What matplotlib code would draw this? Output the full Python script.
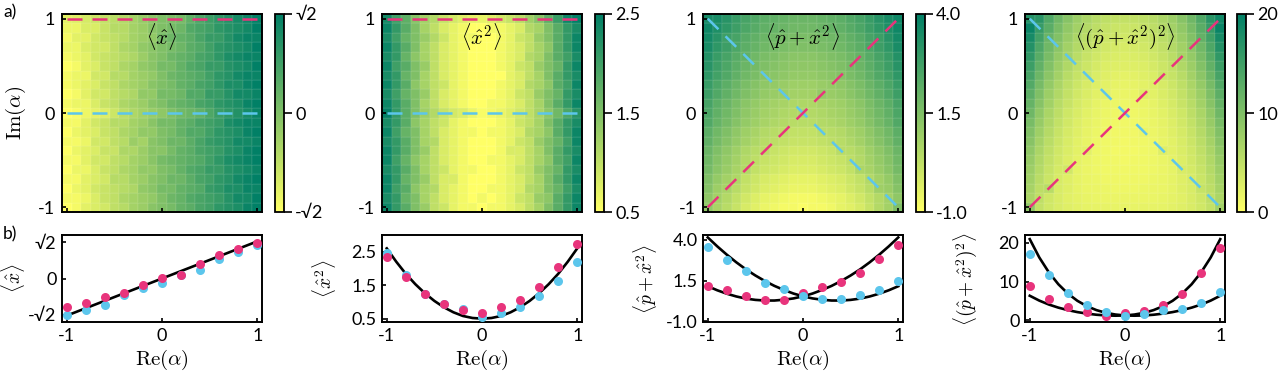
import numpy as np
import matplotlib
matplotlib.use("Agg")
import matplotlib.pyplot as plt

plt.rcParams["font.family"] = ["Lato", "DejaVu Sans"]
plt.rcParams["mathtext.fontset"] = "cm"
plt.rcParams["axes.unicode_minus"] = False

PINK = "#e8347c"
BLUE = "#5cc6ec"
W, H = 1287, 374

# grid of the maps (Re and Im of alpha) and positions of the cuts
alphaGrid = [-1.0, -0.9, -0.8, -0.7, -0.6, -0.5, -0.4, -0.3, -0.2, -0.1, 0.0,
             0.1, 0.2, 0.3, 0.4, 0.5, 0.6, 0.7, 0.8, 0.9, 1.0]
cutX = [-1.0, -0.8, -0.6, -0.4, -0.2, 0.0, 0.2, 0.4, 0.6, 0.8, 1.0]

# maps, rows from Im = -1 (bottom) to Im = 1 (top)
mapX = [
    [-1.4, -1.3, -1.1, -1.0, -0.9, -0.7, -0.6, -0.4, -0.3, -0.1, 0.0, 0.1, 0.3, 0.4, 0.6, 0.7, 0.9, 1.0, 1.1, 1.3, 1.4],
    [-1.3, -1.3, -1.2, -1.0, -0.8, -0.7, -0.5, -0.4, -0.3, -0.2, 0.0, 0.2, 0.3, 0.5, 0.6, 0.7, 0.8, 1.0, 1.2, 1.2, 1.4],
    [-1.4, -1.2, -1.1, -0.9, -0.8, -0.7, -0.6, -0.5, -0.2, -0.1, 0.1, 0.1, 0.3, 0.4, 0.5, 0.8, 0.9, 1.1, 1.1, 1.3, 1.3],
    [-1.3, -1.3, -1.1, -1.0, -0.9, -0.6, -0.6, -0.4, -0.3, -0.1, 0.0, 0.2, 0.2, 0.4, 0.6, 0.7, 0.9, 1.0, 1.2, 1.3, 1.4],
    [-1.4, -1.2, -1.2, -1.0, -0.8, -0.7, -0.5, -0.4, -0.2, -0.2, 0.0, 0.1, 0.3, 0.5, 0.6, 0.8, 0.8, 1.0, 1.1, 1.2, 1.3],
    [-1.3, -1.3, -1.1, -0.9, -0.9, -0.7, -0.6, -0.4, -0.3, -0.1, 0.1, 0.2, 0.3, 0.4, 0.5, 0.7, 0.9, 1.1, 1.2, 1.3, 1.4],
    [-1.4, -1.2, -1.1, -1.0, -0.8, -0.8, -0.5, -0.5, -0.3, -0.1, -0.1, 0.1, 0.3, 0.4, 0.6, 0.7, 0.8, 1.0, 1.1, 1.3, 1.4],
    [-1.3, -1.3, -1.2, -0.9, -0.9, -0.7, -0.6, -0.3, -0.4, -0.1, 0.0, 0.2, 0.2, 0.4, 0.6, 0.8, 0.9, 1.0, 1.2, 1.2, 1.3],
    [-1.4, -1.2, -1.1, -1.0, -0.8, -0.7, -0.5, -0.4, -0.2, -0.2, 0.0, 0.1, 0.3, 0.5, 0.5, 0.7, 0.9, 1.0, 1.1, 1.3, 1.4],
    [-1.3, -1.3, -1.1, -0.9, -0.8, -0.6, -0.6, -0.4, -0.3, -0.1, 0.1, 0.1, 0.3, 0.4, 0.6, 0.7, 0.8, 1.1, 1.2, 1.3, 1.3],
    [-1.44, -1.33, -1.22, -1.12, -1.02, -0.84, -0.66, -0.52, -0.39, -0.28, -0.17, 0.0, 0.15, 0.23, 0.32, 0.55, 0.77, 0.9, 1.02, 1.17, 1.32],
    [-1.3, -1.2, -1.2, -1.0, -0.8, -0.7, -0.5, -0.4, -0.3, -0.1, 0.0, 0.2, 0.3, 0.4, 0.6, 0.7, 0.9, 1.0, 1.1, 1.3, 1.4],
    [-1.4, -1.3, -1.1, -0.9, -0.9, -0.7, -0.6, -0.5, -0.2, -0.2, 0.1, 0.1, 0.2, 0.5, 0.5, 0.8, 0.8, 1.0, 1.2, 1.2, 1.3],
    [-1.3, -1.2, -1.1, -1.0, -0.8, -0.7, -0.5, -0.4, -0.3, -0.1, 0.0, 0.1, 0.3, 0.4, 0.6, 0.7, 0.9, 1.1, 1.1, 1.3, 1.4],
    [-1.3, -1.2, -1.2, -0.9, -0.9, -0.6, -0.6, -0.4, -0.3, -0.2, 0.0, 0.2, 0.3, 0.4, 0.5, 0.7, 0.9, 1.0, 1.2, 1.3, 1.3],
    [-1.4, -1.3, -1.1, -1.0, -0.8, -0.7, -0.5, -0.4, -0.2, -0.1, 0.1, 0.1, 0.3, 0.5, 0.6, 0.8, 0.8, 1.0, 1.1, 1.2, 1.4],
    [-1.3, -1.2, -1.1, -0.9, -0.8, -0.7, -0.6, -0.5, -0.3, -0.1, 0.0, 0.2, 0.3, 0.4, 0.6, 0.7, 0.9, 1.1, 1.2, 1.3, 1.3],
    [-1.2, -1.2, -1.0, -0.9, -0.9, -0.7, -0.5, -0.4, -0.2, -0.1, 0.0, 0.1, 0.2, 0.4, 0.5, 0.7, 0.9, 1.0, 1.1, 1.2, 1.4],
    [-1.3, -1.1, -1.1, -0.9, -0.8, -0.7, -0.6, -0.4, -0.3, -0.2, 0.1, 0.2, 0.3, 0.4, 0.6, 0.8, 0.8, 1.0, 1.2, 1.3, 1.3],
    [-1.2, -1.2, -1.0, -1.0, -0.8, -0.6, -0.6, -0.4, -0.3, -0.1, 0.0, 0.1, 0.2, 0.5, 0.6, 0.7, 0.9, 1.0, 1.1, 1.2, 1.4],
    [-1.10, -1.05, -0.95, -0.85, -0.73, -0.65, -0.56, -0.40, -0.25, -0.12, 0.01, 0.05, 0.12, 0.35, 0.57, 0.75, 0.90, 1.02, 1.15, 1.27, 1.39],
]

mapX2 = [
    [2.4, 2.1, 1.8, 1.5, 1.3, 1.0, 0.9, 0.7, 0.6, 0.6, 0.5, 0.6, 0.6, 0.7, 0.8, 1.0, 1.2, 1.5, 1.8, 2.1, 2.4],
    [2.3, 2.1, 1.7, 1.5, 1.2, 1.0, 0.8, 0.7, 0.6, 0.5, 0.6, 0.5, 0.6, 0.7, 0.9, 1.0, 1.3, 1.4, 1.8, 2.1, 2.4],
    [2.4, 2.0, 1.8, 1.4, 1.2, 1.1, 0.8, 0.7, 0.6, 0.5, 0.5, 0.6, 0.6, 0.7, 0.8, 1.1, 1.2, 1.5, 1.7, 2.0, 2.3],
    [2.4, 2.1, 1.7, 1.5, 1.3, 1.0, 0.8, 0.8, 0.6, 0.5, 0.5, 0.5, 0.6, 0.7, 0.8, 1.0, 1.2, 1.5, 1.8, 2.1, 2.4],
    [2.3, 2.1, 1.8, 1.5, 1.2, 1.0, 0.9, 0.7, 0.6, 0.6, 0.5, 0.5, 0.6, 0.7, 0.9, 1.0, 1.3, 1.5, 1.7, 2.1, 2.3],
    [2.4, 2.0, 1.7, 1.4, 1.2, 1.0, 0.8, 0.7, 0.6, 0.5, 0.5, 0.6, 0.6, 0.7, 0.8, 1.0, 1.2, 1.4, 1.8, 2.0, 2.4],
    [2.4, 2.1, 1.8, 1.5, 1.3, 1.0, 0.8, 0.7, 0.6, 0.5, 0.5, 0.5, 0.6, 0.8, 0.8, 1.0, 1.2, 1.5, 1.8, 2.1, 2.3],
    [2.3, 2.1, 1.8, 1.5, 1.2, 1.1, 0.8, 0.7, 0.6, 0.5, 0.5, 0.5, 0.6, 0.7, 0.9, 1.0, 1.3, 1.5, 1.7, 2.0, 2.4],
    [2.4, 2.0, 1.7, 1.5, 1.2, 1.0, 0.8, 0.7, 0.6, 0.6, 0.5, 0.6, 0.6, 0.7, 0.8, 1.1, 1.2, 1.4, 1.8, 2.1, 2.4],
    [2.3, 2.1, 1.8, 1.4, 1.2, 1.0, 0.9, 0.7, 0.6, 0.5, 0.5, 0.5, 0.6, 0.7, 0.9, 1.0, 1.2, 1.5, 1.8, 2.1, 2.3],
    [2.47, 2.1, 1.79, 1.5, 1.25, 1.1, 0.95, 0.85, 0.78, 0.65, 0.56, 0.6, 0.66, 0.75, 0.86, 1.0, 1.18, 1.4, 1.62, 1.9, 2.18],
    [2.4, 2.1, 1.8, 1.5, 1.2, 1.0, 0.8, 0.7, 0.6, 0.5, 0.5, 0.6, 0.6, 0.7, 0.8, 1.0, 1.2, 1.5, 1.8, 2.1, 2.4],
    [2.3, 2.0, 1.7, 1.5, 1.3, 1.0, 0.8, 0.7, 0.6, 0.5, 0.5, 0.5, 0.6, 0.7, 0.9, 1.0, 1.3, 1.5, 1.7, 2.1, 2.3],
    [2.4, 2.1, 1.8, 1.4, 1.2, 1.0, 0.9, 0.7, 0.6, 0.5, 0.5, 0.5, 0.6, 0.7, 0.8, 1.1, 1.2, 1.4, 1.8, 2.0, 2.4],
    [2.3, 2.1, 1.7, 1.5, 1.2, 1.0, 0.8, 0.7, 0.6, 0.5, 0.5, 0.5, 0.5, 0.7, 0.8, 1.0, 1.2, 1.5, 1.8, 2.1, 2.3],
    [2.4, 2.0, 1.8, 1.5, 1.3, 1.0, 0.8, 0.7, 0.6, 0.5, 0.5, 0.5, 0.6, 0.7, 0.9, 1.0, 1.3, 1.5, 1.7, 2.1, 2.4],
    [2.3, 2.1, 1.7, 1.4, 1.2, 1.0, 0.8, 0.7, 0.6, 0.5, 0.5, 0.5, 0.6, 0.7, 0.8, 1.1, 1.2, 1.5, 1.8, 2.0, 2.3],
    [2.4, 2.1, 1.8, 1.5, 1.2, 1.0, 0.8, 0.7, 0.6, 0.5, 0.5, 0.5, 0.6, 0.7, 0.8, 1.0, 1.2, 1.4, 1.8, 2.1, 2.4],
    [2.3, 2.0, 1.7, 1.5, 1.3, 1.1, 0.9, 0.7, 0.6, 0.6, 0.5, 0.5, 0.6, 0.7, 0.9, 1.0, 1.3, 1.5, 1.8, 2.1, 2.4],
    [2.4, 2.1, 1.8, 1.5, 1.2, 1.0, 0.8, 0.7, 0.6, 0.5, 0.5, 0.6, 0.6, 0.7, 0.8, 1.1, 1.2, 1.5, 1.8, 2.1, 2.3],
    [2.34, 2.0, 1.75, 1.45, 1.23, 1.1, 0.95, 0.85, 0.75, 0.7, 0.68, 0.75, 0.86, 0.95, 1.05, 1.25, 1.45, 1.75, 2.04, 2.4, 2.74],
]

mapPX2 = [
    [1.17, 0.7, 0.4, 0.1, -0.2, -0.4, -0.6, -0.7, -0.8, -0.8, -0.9, -0.8, -0.8, -0.7, -0.5, -0.4, -0.2, 0.1, 0.5, 0.8, 1.5],
    [1.2, 0.8, 0.5, 0.2, -0.1, -0.3, -0.5, -0.6, -0.7, -0.8, -0.8, -0.8, -0.7, -0.6, -0.5, -0.3, -0.1, 0.2, 0.5, 0.8, 1.2],
    [1.4, 0.93, 0.7, 0.4, 0.1, -0.1, -0.3, -0.4, -0.5, -0.6, -0.6, -0.6, -0.5, -0.4, -0.3, -0.1, 0.1, 0.4, 0.89, 1.0, 1.4],
    [1.5, 1.1, 0.8, 0.6, 0.2, 0.0, -0.2, -0.3, -0.4, -0.5, -0.5, -0.5, -0.4, -0.3, -0.2, 0.0, 0.2, 0.5, 0.8, 1.1, 1.5],
    [1.7, 1.3, 1.0, 0.7, 0.52, 0.2, 0.0, -0.1, -0.2, -0.3, -0.3, -0.3, -0.2, -0.1, 0.0, 0.2, 0.62, 0.7, 1.0, 1.3, 1.7],
    [1.8, 1.4, 1.1, 0.8, 0.5, 0.3, 0.1, 0.0, -0.1, -0.2, -0.2, -0.2, -0.1, 0.0, 0.1, 0.3, 0.5, 0.8, 1.1, 1.4, 1.8],
    [1.9, 1.5, 1.2, 0.9, 0.6, 0.4, 0.31, 0.1, 0.0, -0.1, -0.1, -0.1, 0.0, 0.1, 0.37, 0.4, 0.6, 0.9, 1.2, 1.5, 1.9],
    [2.1, 1.7, 1.4, 1.1, 0.8, 0.6, 0.4, 0.3, 0.2, 0.1, 0.1, 0.1, 0.2, 0.3, 0.4, 0.6, 0.8, 1.1, 1.4, 1.7, 2.1],
    [2.2, 1.8, 1.5, 1.2, 0.9, 0.7, 0.5, 0.4, 0.31, 0.2, 0.2, 0.2, 0.35, 0.4, 0.5, 0.7, 0.9, 1.2, 1.5, 1.8, 2.2],
    [2.4, 2.0, 1.7, 1.4, 1.1, 0.9, 0.7, 0.6, 0.5, 0.4, 0.4, 0.4, 0.5, 0.6, 0.7, 0.9, 1.1, 1.4, 1.7, 2.0, 2.4],
    [2.5, 2.1, 1.8, 1.5, 1.2, 1.0, 0.8, 0.7, 0.6, 0.5, 0.6, 0.5, 0.6, 0.7, 0.8, 1.0, 1.2, 1.5, 1.8, 2.1, 2.5],
    [2.6, 2.2, 1.9, 1.6, 1.3, 1.1, 0.9, 0.8, 0.7, 0.6, 0.6, 0.6, 0.7, 0.8, 0.9, 1.1, 1.3, 1.6, 1.9, 2.2, 2.6],
    [2.8, 2.4, 2.1, 1.8, 1.5, 1.3, 1.1, 1.0, 0.97, 0.8, 0.8, 0.8, 1.09, 1.0, 1.1, 1.3, 1.5, 1.8, 2.1, 2.4, 2.8],
    [2.9, 2.5, 2.2, 1.9, 1.6, 1.4, 1.2, 1.1, 1.0, 0.9, 0.9, 0.9, 1.0, 1.1, 1.2, 1.4, 1.6, 1.9, 2.2, 2.5, 2.9],
    [3.1, 2.7, 2.4, 2.1, 1.8, 1.6, 1.34, 1.3, 1.2, 1.1, 1.1, 1.1, 1.2, 1.3, 1.40, 1.6, 1.8, 2.1, 2.4, 2.7, 3.1],
    [3.2, 2.8, 2.5, 2.2, 1.9, 1.7, 1.5, 1.4, 1.3, 1.2, 1.2, 1.2, 1.3, 1.4, 1.5, 1.7, 1.9, 2.2, 2.5, 2.8, 3.2],
    [3.3, 2.9, 2.6, 2.3, 2.09, 1.8, 1.6, 1.5, 1.4, 1.3, 1.3, 1.3, 1.4, 1.5, 1.6, 1.8, 1.99, 2.3, 2.6, 2.9, 3.3],
    [3.5, 3.1, 2.8, 2.5, 2.2, 2.0, 1.8, 1.7, 1.6, 1.5, 1.5, 1.5, 1.6, 1.7, 1.8, 2.0, 2.2, 2.5, 2.8, 3.1, 3.5],
    [3.6, 3.2, 2.77, 2.6, 2.3, 2.1, 1.9, 1.8, 1.7, 1.6, 1.6, 1.6, 1.7, 1.8, 1.9, 2.1, 2.3, 2.6, 2.81, 3.2, 3.6],
    [3.7, 3.4, 3.1, 2.8, 2.5, 2.3, 2.1, 2.0, 1.9, 1.8, 1.8, 1.8, 1.9, 2.0, 2.1, 2.3, 2.5, 2.8, 3.1, 3.4, 3.7],
    [3.55, 3.5, 3.2, 2.9, 2.6, 2.4, 2.2, 2.1, 2.0, 1.9, 1.9, 1.9, 2.0, 2.1, 2.2, 2.4, 2.6, 2.9, 3.2, 3.5, 3.69],
]

mapPX2sq = [
    [8.9, 4.7, 3.7, 3.0, 2.5, 2.2, 2.0, 1.9, 1.9, 1.8, 1.8, 1.8, 1.9, 1.9, 2.0, 2.2, 2.5, 3.0, 3.7, 4.7, 7.3],
    [6.5, 5.0, 3.8, 3.0, 2.4, 2.1, 1.8, 1.7, 1.6, 1.6, 1.6, 1.6, 1.6, 1.7, 1.8, 2.1, 2.4, 3.0, 3.8, 5.0, 6.5],
    [6.9, 5.2, 5.6, 3.1, 2.5, 2.0, 1.7, 1.6, 1.5, 1.4, 1.4, 1.4, 1.5, 1.6, 1.7, 2.0, 2.5, 3.1, 4.5, 5.2, 6.9],
    [7.3, 5.5, 4.2, 3.2, 2.5, 2.0, 1.7, 1.5, 1.3, 1.3, 1.2, 1.3, 1.3, 1.5, 1.7, 2.0, 2.5, 3.2, 4.2, 5.5, 7.3],
    [7.7, 5.9, 4.4, 3.4, 3.6, 2.0, 1.6, 1.4, 1.2, 1.2, 1.1, 1.2, 1.2, 1.4, 1.6, 2.0, 3.0, 3.4, 4.4, 5.9, 7.7],
    [8.2, 6.2, 4.7, 3.6, 2.7, 2.1, 1.7, 1.4, 1.2, 1.1, 1.0, 1.1, 1.2, 1.4, 1.7, 2.1, 2.7, 3.6, 4.7, 6.2, 8.2],
    [8.7, 6.6, 5.0, 3.8, 2.9, 2.2, 2.2, 1.4, 1.2, 1.0, 1.0, 1.0, 1.2, 1.4, 2.6, 2.2, 2.9, 3.8, 5.0, 6.6, 8.7],
    [9.3, 7.1, 5.4, 4.1, 3.1, 2.3, 1.8, 1.4, 1.2, 1.1, 1.0, 1.1, 1.2, 1.4, 1.8, 2.3, 3.1, 4.1, 5.4, 7.1, 9.3],
    [9.9, 7.6, 5.8, 4.4, 3.3, 2.5, 1.9, 1.5, 1.2, 1.1, 1.1, 1.1, 1.7, 1.5, 1.9, 2.5, 3.3, 4.4, 5.8, 7.6, 9.9],
    [10.6, 8.2, 6.3, 4.8, 3.6, 2.7, 2.1, 1.7, 1.4, 1.2, 1.1, 1.2, 1.4, 1.7, 2.1, 2.7, 3.6, 4.8, 6.3, 8.2, 10.6],
    [11.3, 8.7, 6.7, 5.2, 3.9, 3.0, 2.3, 1.8, 1.5, 1.3, 1.5, 1.3, 1.5, 1.8, 2.3, 3.0, 3.9, 5.2, 6.7, 8.7, 11.3],
    [12.0, 9.4, 7.3, 5.6, 4.3, 3.3, 2.6, 2.0, 1.7, 1.5, 1.4, 1.5, 1.7, 2.0, 2.6, 3.3, 4.3, 5.6, 7.3, 9.4, 12.0],
    [12.7, 10.0, 7.8, 6.1, 4.7, 3.6, 2.9, 2.3, 2.2, 1.7, 1.6, 1.7, 2.5, 2.3, 2.9, 3.6, 4.7, 6.1, 7.8, 10.0, 12.7],
    [13.5, 10.7, 8.4, 6.6, 5.1, 4.0, 3.2, 2.6, 2.2, 1.9, 1.8, 1.9, 2.2, 2.6, 3.2, 4.0, 5.1, 6.6, 8.4, 10.7, 13.5],
    [14.4, 11.5, 9.1, 7.2, 5.6, 4.5, 3.9, 2.9, 2.5, 2.2, 2.1, 2.2, 2.5, 2.9, 4.1, 4.5, 5.6, 7.2, 9.1, 11.5, 14.4],
    [15.3, 12.3, 9.8, 7.8, 6.2, 4.9, 4.0, 3.3, 2.8, 2.6, 2.5, 2.6, 2.8, 3.3, 4.0, 4.9, 6.2, 7.8, 9.8, 12.3, 15.3],
    [16.2, 13.1, 10.5, 8.4, 7.0, 5.4, 4.4, 3.7, 3.2, 2.9, 2.8, 2.9, 3.2, 3.7, 4.4, 5.4, 6.9, 8.4, 10.5, 13.1, 16.2],
    [17.2, 13.9, 11.2, 9.1, 7.3, 6.0, 4.9, 4.2, 3.6, 3.3, 3.2, 3.3, 3.6, 4.2, 4.9, 6.0, 7.3, 9.1, 11.2, 13.9, 17.2],
    [18.2, 14.8, 11.7, 9.8, 8.0, 6.5, 5.4, 4.6, 4.1, 3.8, 3.7, 3.8, 4.1, 4.6, 5.4, 6.5, 8.0, 9.8, 12.2, 14.8, 18.2],
    [19.2, 15.7, 12.9, 10.5, 8.6, 7.2, 6.0, 5.2, 4.6, 4.2, 4.1, 4.2, 4.6, 5.2, 6.0, 7.2, 8.6, 10.5, 12.9, 15.7, 19.2],
    [17.1, 16.7, 13.7, 11.3, 9.4, 7.8, 6.6, 5.7, 5.1, 4.8, 4.7, 4.8, 5.1, 5.7, 6.6, 7.8, 9.4, 11.3, 13.7, 16.7, 18.7],
]

# cuts: pink = Im(alpha) = 1 / diagonal, blue = Im(alpha) = 0 / anti-diagonal
cutPinkX = [-1.10, -0.95, -0.73, -0.56, -0.25, 0.01, 0.12, 0.57, 0.90, 1.15, 1.39]
cutBlueX = [-1.44, -1.22, -1.02, -0.66, -0.39, -0.17, 0.15, 0.32, 0.77, 1.02, 1.32]
cutPinkX2 = [2.34, 1.75, 1.23, 0.95, 0.75, 0.68, 0.86, 1.05, 1.45, 2.04, 2.74]
cutBlueX2 = [2.47, 1.79, 1.25, 0.95, 0.78, 0.56, 0.66, 0.86, 1.18, 1.62, 2.18]
cutPinkPX2 = [1.17, 0.93, 0.52, 0.31, 0.31, 0.72, 1.09, 1.40, 1.99, 2.81, 3.69]
cutBluePX2 = [3.55, 2.77, 2.09, 1.34, 0.97, 0.52, 0.35, 0.37, 0.62, 0.89, 1.50]
cutPinkPX2sq = [8.87, 5.57, 3.57, 2.17, 1.22, 1.91, 2.52, 4.09, 6.87, 12.17, 18.7]
cutBluePX2sq = [17.1, 11.65, 6.96, 3.90, 2.17, 1.22, 1.74, 2.60, 3.04, 4.52, 7.30]

# theory curves
lineX = [-1.0, 1.0]
theoryX = [-1.45, 1.45]
theoryX2 = [2.60, 2.20, 1.84, 1.53, 1.26, 1.03, 0.84, 0.69, 0.58, 0.52, 0.50,
            0.52, 0.58, 0.69, 0.84, 1.03, 1.26, 1.53, 1.84, 2.20, 2.60]
theoryPX2 = [1.15, 0.90, 0.69, 0.52, 0.39, 0.31, 0.27, 0.27, 0.32, 0.40, 0.53,
             0.70, 0.92, 1.17, 1.47, 1.81, 2.19, 2.62, 3.09, 3.60, 4.15]
theoryPX2sq = [6.36, 5.11, 4.10, 3.30, 2.66, 2.15, 1.76, 1.47, 1.29, 1.22, 1.29,
               1.52, 1.96, 2.66, 3.67, 5.06, 6.92, 9.33, 12.40, 16.22, 20.93]

panels = [
    dict(map=mapX, title=r"$\langle\hat{x}\rangle$", vlim=(-2 ** 0.5, 2 ** 0.5),
         ticks=[-2 ** 0.5, 0, 2 ** 0.5], tickLabels=["-\u221a2", "0", "\u221a2"],
         cut="row", pink=cutPinkX, blue=cutBlueX, pinkTop=True,
         curves=[(lineX, theoryX)], ylim=(-1.7, 1.7),
         ylabel=r"$\langle\hat{x}\rangle$"),
    dict(map=mapX2, title=r"$\langle\hat{x}^2\rangle$", vlim=(0.5, 2.5),
         ticks=[0.5, 1.5, 2.5], tickLabels=["0.5", "1.5", "2.5"],
         cut="row", pink=cutPinkX2, blue=cutBlueX2, pinkTop=True,
         curves=[(alphaGrid, theoryX2)], ylim=(0.4, 3.0),
         ylabel=r"$\langle\hat{x}^2\rangle$"),
    dict(map=mapPX2, title=r"$\langle\hat{p}+\hat{x}^2\rangle$", vlim=(-1.0, 4.0),
         ticks=[-1.0, 1.5, 4.0], tickLabels=["-1.0", "1.5", "4.0"],
         cut="diag", pink=cutPinkPX2, blue=cutBluePX2, pinkTop=False,
         curves=[(alphaGrid, theoryPX2), (alphaGrid, theoryPX2[::-1])], ylim=(-1.05, 4.3),
         ylabel=r"$\langle\hat{p}+\hat{x}^2\rangle$"),
    dict(map=mapPX2sq, title=r"$\langle(\hat{p}+\hat{x}^2)^2\rangle$", vlim=(0, 20),
         ticks=[0, 10, 20], tickLabels=["0", "10", "20"],
         cut="diag", pink=cutPinkPX2sq, blue=cutBluePX2sq, pinkTop=False,
         curves=[(alphaGrid, theoryPX2sq), (alphaGrid, theoryPX2sq[::-1])], ylim=(-0.4, 22.0),
         ylabel=r"$\langle(\hat{p}+\hat{x}^2)^2\rangle$"),
]

lefts = [62, 382, 703, 1025]
cbarLefts = [275, 595, 916, 1237]
labelX = [-0.175, -0.22, -0.22, -0.23]
TICKSIZE = 13


def box(left, top, width, height):
    """pixel box (from top left) -> figure fraction"""
    return [left / W, 1 - (top + height) / H, width / W, height / H]


def frame(ax, lw=1.4):
    for s in ax.spines.values():
        s.set_linewidth(lw)


fig = plt.figure(figsize=(W / 100, H / 100), dpi=100)

for i, p in enumerate(panels):
    # --- map
    ax = fig.add_axes(box(lefts[i], 14, 200, 198))
    mesh = ax.pcolormesh(alphaGrid, alphaGrid, np.array(p["map"]), shading="nearest",
                         cmap="summer_r", vmin=p["vlim"][0], vmax=p["vlim"][1],
                         edgecolors=(1, 1, 1, 0.05), linewidth=0.3)
    ax.set_xlim(-1.05, 1.05)
    ax.set_ylim(-1.05, 1.05)
    ax.set_xticks([-1, 0, 1])
    ax.set_xticklabels([])
    ax.set_yticks([-1, 0, 1])
    ax.set_yticklabels(["-1", "0", "1"])
    ax.tick_params(direction="in", length=3, width=1.2, labelsize=TICKSIZE, pad=5)
    frame(ax)

    if p["cut"] == "row":
        ax.plot(cutX, [1.0] * len(cutX), color=PINK, lw=1.8, dashes=(6, 4))
        ax.plot(cutX, [0.0] * len(cutX), color=BLUE, lw=1.8, dashes=(6, 4))
    else:
        ax.plot(cutX, [-v for v in cutX], color=BLUE, lw=1.8, dashes=(6, 4))
        ax.plot(cutX, cutX, color=PINK, lw=1.8, dashes=(6, 4))
    ax.text(0, 0.81, p["title"], ha="center", va="center", fontsize=15)

    if i == 0:
        ax.set_ylabel(r"$\mathrm{Im}(\alpha)$", fontsize=15)
        ax.yaxis.set_label_coords(-0.17, 0.5)

    # --- colorbar
    cax = fig.add_axes(box(cbarLefts[i], 14, 9, 198))
    cb = fig.colorbar(mesh, cax=cax, ticks=p["ticks"])
    cb.set_ticklabels(p["tickLabels"])
    cax.tick_params(direction="out", length=6, width=1.2, labelsize=TICKSIZE, pad=2)
    cb.outline.set_linewidth(1.3)

    # --- cut
    bx = fig.add_axes(box(lefts[i], 235, 200, 87))
    for cx, cy in p["curves"]:
        bx.plot(cx, cy, color="k", lw=1.9, zorder=2)
    order = [("blue", BLUE), ("pink", PINK)] if p["pinkTop"] else [("pink", PINK), ("blue", BLUE)]
    for key, col in order:
        bx.plot(cutX, p[key], "o", color=col, ms=6.5, mec="none", zorder=3)
    bx.set_xlim(-1.05, 1.05)
    bx.set_ylim(*p["ylim"])
    bx.set_xticks([-1, 0, 1])
    bx.set_xticklabels(["-1", "0", "1"])
    bx.set_yticks(p["ticks"])
    bx.set_yticklabels(p["tickLabels"])
    bx.tick_params(direction="in", length=3, width=1.2, labelsize=TICKSIZE, pad=4)
    frame(bx)
    bx.set_xlabel(r"$\mathrm{Re}(\alpha)$", fontsize=15)
    bx.xaxis.set_label_coords(0.5, -0.3)
    bx.set_ylabel(p["ylabel"], fontsize=14)
    bx.yaxis.set_label_coords(labelX[i], 0.5)

fig.text(3 / W, 1 - 4 / H, "a)", fontsize=12.5, va="top")
fig.text(3 / W, 1 - 226 / H, "b)", fontsize=12.5, va="top")

fig.savefig("out.png", dpi=100)
